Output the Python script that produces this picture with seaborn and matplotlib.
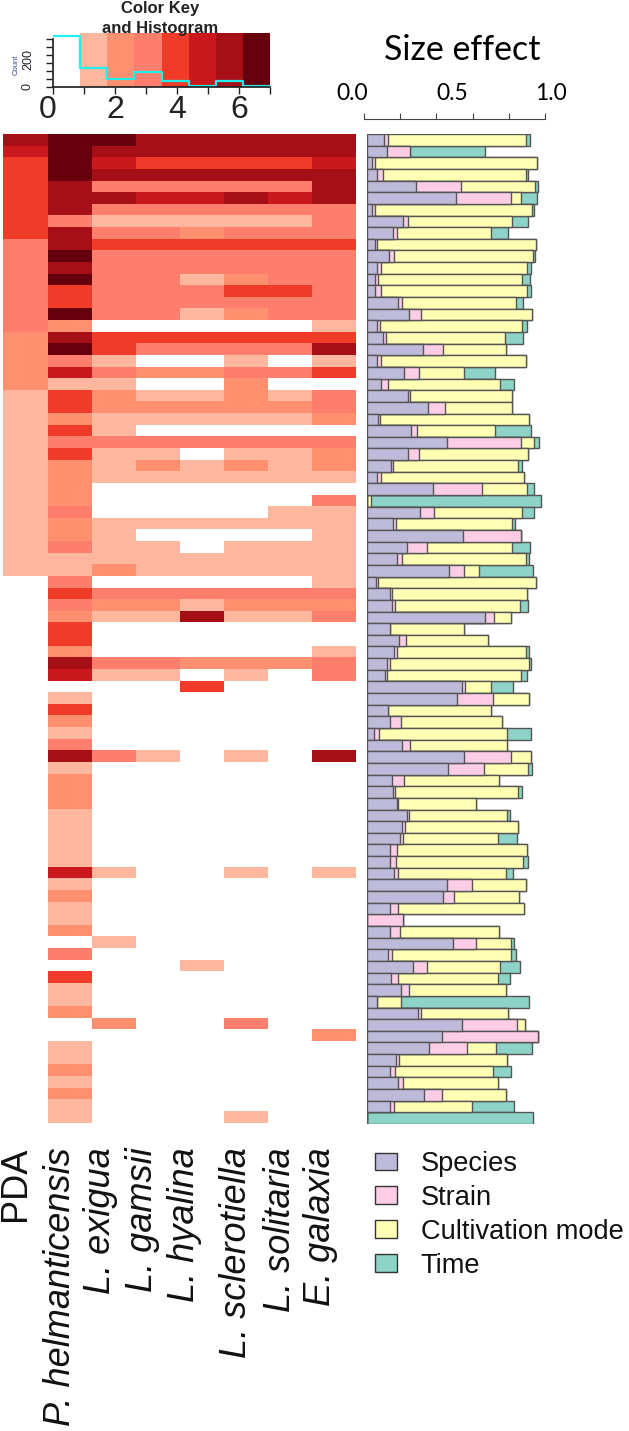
import numpy as np
import pandas as pd
import matplotlib
matplotlib.use("Agg")
import matplotlib.pyplot as plt
from matplotlib.colors import ListedColormap
from matplotlib.patches import Patch
import seaborn as sns

# heatmap classes per column, top row first (0 = empty)
pda = [6,5,4,4,4,4,4,4,4,3,3,3,3,3,3,3,3,2,2,2,2,2,1,1,1,1,1,1,1,1,1,1,1,1,1,1,1,1,
       0,0,0,0,0,0,0,0,0,0,0,0,0,0,0,0,0,0,0,0,0,0,0,0,0,0,0,0,0,0,0,0,0,0,0,0,0,0,0,0,0,0,0,0,0,0,0]
p_helm = [7,7,7,7,6,6,6,3,6,6, 7,6,7,4,4,7,2,6,7,3, 5,1,4,4,2,4,3,4,2,2, 2,2,3,2,2,3,1,1,3,4,
          3,2,4,4,2,6,5,0,1,4, 2,1,3,6,1,2,2,2,1,1, 1,1,1,5,1,2,1,1,2,0, 3,0,4,1,1,2,0,0,1,1, 2,1,2,1,1]
exigua = [7,6,5,6,3,6,3,1,3,4, 3,3,3,3,3,3,0,4,4,1, 3,1,2,2,1,1,3,1,1,1, 0,0,0,1,1,1,1,2,0,3,
          2,1,0,0,0,3,1,0,0,0, 0,0,0,3,0,0,0,0,0,0, 0,0,0,1,0,0,0,0,0,1, 0,0,0,0,0,0,2,0,0,0, 0,0,0,0,0]
gamsii = [6,6,4,6,3,5,3,1,3,4, 3,3,3,3,3,3,0,4,3,0, 2,0,1,2,1,0,3,1,2,1, 0,0,0,1,0,1,1,1,0,3,
          2,1,0,0,0,3,1,0,0,0, 0,0,0,1,0,0,0,0,0,0, 0,0,0,0,0,0,0,0,0,0, 0,0,0,0,0,0,0,0,0,0, 0,0,0,0,0]
hyalina = [6,6,4,6,3,5,3,1,2,4, 3,3,1,3,3,1,0,4,3,0, 2,0,1,2,1,0,3,0,1,1, 0,0,0,1,0,0,1,1,0,3,
           1,6,0,0,0,2,0,4,0,0, 0,0,0,0,0,0,0,0,0,0, 0,0,0,0,0,0,0,0,0,0, 0,1,0,0,0,0,0,0,0,0, 0,0,0,0,0]
sclerotiella = [6,6,4,6,3,6,3,1,3,4, 3,3,2,4,3,2,0,4,3,1, 3,2,2,2,1,0,3,1,2,1, 0,0,0,1,0,1,1,1,0,3,
                2,1,0,0,0,2,1,0,0,0, 0,0,0,1,0,0,0,0,0,0, 0,0,0,1,0,0,0,0,0,0, 0,0,0,0,0,0,3,0,0,0, 0,0,0,0,1]
solitaria = [6,6,4,6,3,5,3,1,3,4, 3,3,3,4,3,3,0,4,3,0, 3,0,1,2,1,0,3,1,1,1, 0,0,1,1,0,1,1,1,0,3,
             2,1,0,0,0,2,0,0,0,0, 0,0,0,0,0,0,0,0,0,0, 0,0,0,0,0,0,0,0,0,0, 0,0,0,0,0,0,0,0,0,0, 0,0,0,0,0]
galaxia = [6,6,5,6,6,6,3,3,3,4, 3,3,3,3,3,3,1,4,6,1, 4,0,3,3,2,0,3,2,2,1, 0,3,1,1,1,1,1,1,1,3,
           2,3,0,0,1,3,3,0,0,0, 0,0,0,6,0,0,0,0,0,0, 0,0,0,1,0,0,0,0,0,0, 0,0,0,0,0,0,0,2,0,0, 0,0,0,0,0]

heat_labels = ["PDA", "P. helmanticensis", "L. exigua", "L. gamsii", "L. hyalina",
               "L. sclerotiella", "L. solitaria", "E. galaxia"]
label_x = [15, 60, 101, 142, 185, 237, 280, 320]
key_colors = ["#ffffff", "#fdb79f", "#fe9070", "#fe7e6e", "#f03b28", "#cb181d", "#a50f15", "#67000d"]

# size effect per row
species = [.095,.112,.030,.056,.277,.498,.028,.202,.146,.045,.124,.056,.045,.045,.176,.236,.054,.090,.313,.054,
           .210,.081,.232,.341,.064,.249,.451,.232,.133,.056,.373,0,.300,.146,.541,.227,.167,.459,.049,.131,
           .142,.665,.131,.180,.154,.112,.103,.536,.504,.120,.131,.041,.197,.547,.455,.142,.146,.170,.227,.199,
           .187,.131,.129,.154,.451,.429,.131,0,.129,.485,.120,.260,.137,.193,.056,.288,.536,.423,.346,.163,
           .127,.172,.322,.131,0]
strain = [.024,.129,.013,.034,.251,.309,.019,.030,.022,.011,.030,.022,.019,.036,.019,.069,.021,.015,.114,.024,
          .082,.036,.011,.099,.011,.030,.416,.060,.013,.024,.273,0,.079,.019,.326,.109,.032,.086,.013,.011,
          .013,.049,0,.039,.017,.015,.011,.013,.206,0,.062,.028,.043,.260,.202,.067,.011,.002,.011,.013,
          .015,.039,.034,.019,.139,.060,.045,.200,.056,.129,.022,.077,.036,.043,0,.013,.307,.537,.217,.019,
          .032,.030,.099,.021,0]
cultivation = [.773,0,.914,.803,.416,.060,.880,.584,.528,.891,.777,.820,.809,.820,.642,.622,.798,.672,.354,.818,
               .253,.629,.571,.375,.835,.442,.071,.612,.704,.803,.253,.024,.491,.652,0,.478,.695,.082,.886,.755,
               .704,.094,.414,.463,.723,.783,.751,.148,.200,.575,.564,.717,.547,.112,.249,.534,.693,.442,.549,.639,
               .534,.727,.713,.609,.303,.365,.704,0,.558,.193,.669,.410,.562,.545,.137,.489,.045,0,.163,.605,
               .551,.536,.360,.440,0]
time_eff = [.022,.423,0,.013,.019,.090,.011,.088,.097,0,.011,.021,.043,.019,.039,0,.028,.099,0,0,
            .172,.079,0,0,0,.199,.030,0,.022,0,.041,.951,.071,.017,0,.103,.017,.305,0,0,
            .047,0,0,0,.015,.009,.034,.125,0,0,0,.133,0,0,.019,0,.019,0,.017,0,
            .107,0,.026,.036,0,0,0,0,0,.019,.026,.112,.067,0,.717,0,0,0,.202,0,
            .097,0,0,.236,.933]
bar_names = ["Species", "Strain", "Cultivation mode", "Time"]
bar_colors = ["#bebada", "#fccde5", "#ffffb3", "#8dd3c7"]

# colour key histogram
key_edges = [0, 0.875, 1.75, 2.625, 3.5, 4.375, 5.25, 6.125, 7]
key_counts = [317, 119, 54, 92, 40, 8, 40, 8]
key_digits = ["0", "2", "4", "6"]
key_digit_x = [48, 115, 177, 239]

W, H = 629, 1431


def box(left, top, right, bottom):
    return [left / W, 1 - bottom / H, (right - left) / W, (bottom - top) / H]


def put(x, y, s, **kw):
    fig.text(x / W, 1 - y / H, s, **kw)


sns.set_theme(style="white")
plt.rcParams["font.family"] = ["Liberation Sans", "DejaVu Sans"]

fig = plt.figure(figsize=(W / 100, H / 100), dpi=100)

# heatmap
heat = pd.DataFrame(dict(zip(heat_labels, [pda, p_helm, exigua, gamsii, hyalina, sclerotiella, solitaria, galaxia])))
ax = fig.add_axes(box(3.5, 134, 356, 1122.5))
sns.heatmap(heat, ax=ax, cmap=ListedColormap(key_colors), vmin=-0.5, vmax=7.5, cbar=False,
            xticklabels=False, yticklabels=False)
for name, x in zip(heat_labels, label_x):
    style = "normal" if name == "PDA" else "italic"
    put(x, 1147, name, rotation=90, ha="center", va="top", fontsize=26, style=style, color="#111111")

# stacked bars, drawn back to front from running totals
bars = pd.DataFrame({"Species": species, "Strain": strain, "Cultivation mode": cultivation, "Time": time_eff})
running = bars.cumsum(axis=1)
rows = np.arange(len(bars))
ax2 = fig.add_axes(box(367, 134, 545, 1124))
for name, color in reversed(list(zip(bar_names, bar_colors))):
    sns.barplot(x=running[name].values, y=rows, orient="h", color=color, saturation=1, width=1,
                edgecolor="#555555", linewidth=1, errorbar=None, ax=ax2)
ax2.set_xlim(0, 1)
ax2.axis("off")

# scale above the bars
ax3 = fig.add_axes(box(364, 100, 545, 119))
ax3.set_xlim(0, 1)
ax3.set_ylim(0, 1)
ax3.patch.set_alpha(0)
for s in ["top", "left", "right"]:
    ax3.spines[s].set_visible(False)
ax3.spines["bottom"].set_color("#444444")
ax3.spines["bottom"].set_linewidth(0.8)
ax3.set_yticks([])
ax3.set_xticks([0, 0.2, 0.4, 0.6, 0.8, 1.0])
ax3.set_xticklabels([])
ax3.tick_params(axis="x", direction="in", length=4.5, width=0.8, color="#444444", bottom=True)
put(462, 50, "Size effect", family="Lato", fontsize=24.5, ha="center", va="center", color="black")
for x, s in zip([352, 452, 551], ["0.0", "0.5", "1.0"]):
    put(x, 93, s, family="Lato", fontsize=16.5, ha="center", va="center", color="black")

# colour key
ax4 = fig.add_axes(box(53, 33, 270, 87.3))
for i in range(len(key_counts)):
    ax4.axvspan(key_edges[i], key_edges[i + 1], color=key_colors[i], lw=0)
step_x = np.array(key_edges)
step_y = np.array(key_counts + key_counts[-1:])
sns.lineplot(x=step_x, y=step_y, drawstyle="steps-post", color="#22eeee", linewidth=1.6, estimator=None, ax=ax4)
ax4.set_xlim(0, 7)
ax4.set_ylim(0, 337)
for s in ["top", "right"]:
    ax4.spines[s].set_visible(False)
ax4.spines["left"].set_bounds(0, 300)
ax4.spines["left"].set_color("#222222")
ax4.spines["bottom"].set_color("#222222")
ax4.set_xticks(range(8))
ax4.set_xticklabels([])
ax4.set_yticks([0, 50, 100, 150, 200, 250, 300])
ax4.set_yticklabels([])
ax4.tick_params(axis="both", direction="out", length=5, width=1, color="#222222", left=True, bottom=True)
for x, s in zip(key_digit_x, key_digits):
    put(x, 110, s, fontsize=23, ha="center", va="center", color="#222222")
put(28, 87, "0", rotation=90, fontsize=9, ha="center", va="center", color="#222222")
put(28, 60, "200", rotation=90, fontsize=9, ha="center", va="center", color="#222222")
put(16, 65, "Count", rotation=90, fontsize=5.5, ha="center", va="center", color="#334488")
put(160, 9, "Color Key", fontsize=12, weight="bold", ha="center", va="center", color="#222222", zorder=10)
put(160, 29, "and Histogram", fontsize=12, weight="bold", ha="center", va="center", color="#222222", zorder=10)

# legend
handles = [Patch(facecolor=c, edgecolor="#333333", linewidth=1, label=n) for n, c in zip(bar_names, bar_colors)]
fig.legend(handles=handles, loc="upper left", bbox_to_anchor=(375 / W, 1 - 1151 / H), frameon=False,
           fontsize=19.6, handlelength=0.8, handleheight=0.62, handletextpad=0.88, labelspacing=0.29,
           borderpad=0, borderaxespad=0, labelcolor="#111111")

fig.savefig("out.png", dpi=100)
